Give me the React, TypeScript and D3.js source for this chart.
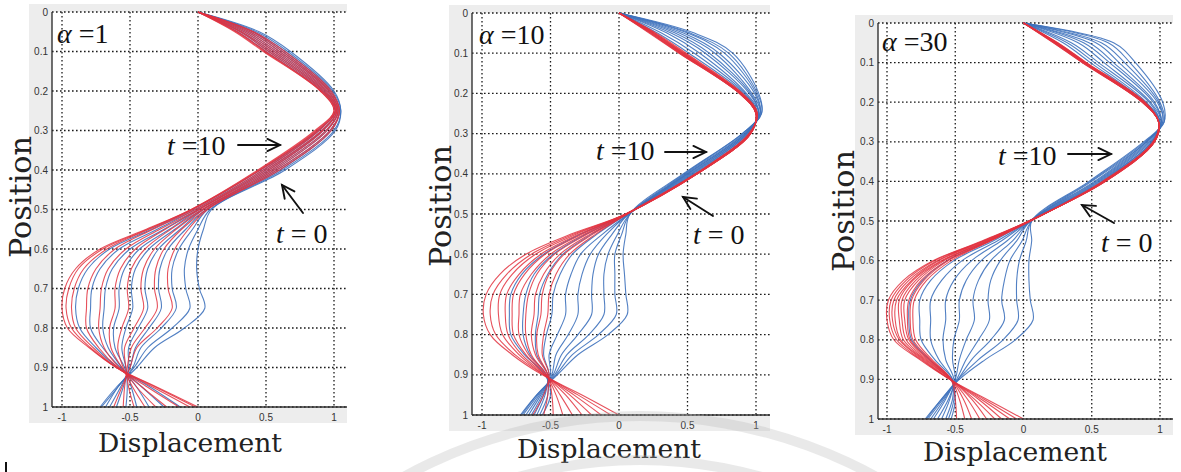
import React from "react";
import * as d3 from "d3";

// sample positions along the beam (shared by every curve)
const positions = [0, 0.05, 0.1, 0.2, 0.25, 0.3, 0.4, 0.5, 0.55, 0.6, 0.65, 0.7, 0.75, 0.8, 0.85, 0.9, 0.95, 1];

const yTicks = [0, 0.1, 0.2, 0.3, 0.4, 0.5, 0.6, 0.7, 0.8, 0.9, 1];
const yTickLabels = ["0", "0.1", "0.2", "0.3", "0.4", "0.5", "0.6", "0.7", "0.8", "0.9", "1"];
const xTicks = [-1, -0.5, 0, 0.5, 1];
const xTickLabels = ["-1", "-0.5", "0", "0.5", "1"];
const alphaLabels = ["1", "10", "30"];

// alpha = 1
const alpha1Blue = [
  [0, .45, .68, 1.0, 1.05, 1.01, .64, .1, .04, 0, -.01, .01, .05, -.1, -.32, -.45, -.6, -.72],
  [0, .43, .66, .99, 1.05, 1.0, .62, .09, 0, -.07, -.1, -.09, -.06, -.19, -.37, -.47, -.59, -.71],
  [0, .41, .64, .98, 1.04, .98, .6, .07, -.04, -.14, -.19, -.19, -.16, -.27, -.42, -.48, -.59, -.68],
  [0, .4, .62, .97, 1.04, .97, .58, .06, -.09, -.22, -.28, -.29, -.27, -.36, -.46, -.5, -.57, -.65],
  [0, .38, .6, .96, 1.03, .95, .56, .04, -.13, -.29, -.37, -.39, -.37, -.44, -.51, -.51, -.55, -.6],
  [0, .36, .58, .95, 1.03, .94, .54, .03, -.17, -.36, -.46, -.49, -.48, -.53, -.56, -.53, -.52, -.53],
  [0, .34, .56, .94, 1.02, .92, .52, .01, -.21, -.43, -.54, -.58, -.58, -.62, -.61, -.54, -.49, -.45],
  [0, .32, .54, .93, 1.02, .91, .5, 0, -.25, -.5, -.63, -.68, -.69, -.7, -.66, -.56, -.45, -.36],
  [0, .31, .52, .92, 1.01, .89, .48, -.02, -.3, -.58, -.72, -.78, -.79, -.79, -.7, -.57, -.41, -.25],
  [0, .29, .5, .91, 1.01, .88, .46, -.04, -.34, -.65, -.81, -.88, -.9, -.87, -.75, -.59, -.35, -.13],
];
const alpha1Red = [
  [0, .41, .64, .98, 1.04, .98, .6, .07, -.07, -.17, -.22, -.22, -.19, -.3, -.45, -.5, -.56, -.62],
  [0, .4, .62, .97, 1.04, .97, .58, .06, -.12, -.25, -.31, -.32, -.3, -.39, -.49, -.52, -.54, -.55],
  [0, .38, .6, .96, 1.03, .95, .56, .04, -.16, -.32, -.4, -.42, -.4, -.47, -.54, -.53, -.51, -.47],
  [0, .36, .58, .95, 1.03, .94, .54, .03, -.2, -.39, -.49, -.52, -.51, -.56, -.59, -.55, -.48, -.39],
  [0, .34, .56, .94, 1.02, .92, .52, .01, -.24, -.46, -.57, -.61, -.61, -.65, -.64, -.56, -.45, -.31],
  [0, .32, .54, .93, 1.02, .91, .5, 0, -.28, -.53, -.66, -.71, -.72, -.73, -.69, -.58, -.41, -.23],
  [0, .31, .52, .92, 1.01, .89, .48, -.02, -.33, -.61, -.75, -.81, -.82, -.82, -.73, -.59, -.37, -.14],
  [0, .29, .5, .91, 1.01, .88, .46, -.04, -.36, -.67, -.84, -.91, -.93, -.9, -.77, -.6, -.33, -.06],
  [0, .28, .49, .9, 1.0, .87, .45, -.05, -.37, -.7, -.88, -.95, -.97, -.93, -.79, -.6, -.31, -.02],
  [0, .27, .48, .9, 1.0, .86, .44, -.05, -.38, -.72, -.9, -.98, -1.0, -.96, -.8, -.6, -.3, 0],
];

// alpha = 10
const alpha10Blue = [
  [0, .55, .83, 1.02, 1.04, .9, .47, .08, .05, .03, .04, .05, .06, -.08, -.3, -.45, -.6, -.72],
  [0, .52, .8, 1.01, 1.04, .9, .48, .08, .02, -.03, -.03, -.03, -.02, -.15, -.34, -.46, -.6, -.71],
  [0, .5, .77, 1.0, 1.03, .91, .49, .08, -.01, -.08, -.11, -.11, -.11, -.22, -.38, -.47, -.59, -.7],
  [0, .47, .73, .99, 1.03, .92, .5, .07, -.05, -.15, -.19, -.2, -.2, -.3, -.42, -.48, -.58, -.68],
  [0, .44, .7, .97, 1.03, .92, .5, .07, -.09, -.21, -.27, -.3, -.3, -.37, -.46, -.49, -.57, -.66],
  [0, .41, .66, .96, 1.02, .93, .51, .07, -.12, -.28, -.35, -.39, -.39, -.45, -.51, -.5, -.56, -.64],
  [0, .38, .63, .95, 1.02, .93, .52, .06, -.16, -.34, -.43, -.48, -.49, -.53, -.55, -.51, -.55, -.62],
  [0, .35, .59, .93, 1.02, .94, .53, .06, -.2, -.41, -.52, -.58, -.59, -.61, -.6, -.52, -.54, -.6],
  [0, .31, .55, .92, 1.01, .94, .54, .06, -.24, -.48, -.62, -.68, -.7, -.7, -.65, -.53, -.52, -.58],
  [0, .28, .51, .91, 1.01, .95, .55, .06, -.28, -.55, -.71, -.79, -.8, -.79, -.69, -.54, -.5, -.56],
];
const alpha10Red = [
  [0, .27, .49, .9, 1.01, .95, .56, .06, -.17, -.36, -.46, -.51, -.52, -.55, -.56, -.51, -.55, -.63],
  [0, .26, .48, .9, 1.01, .95, .56, .06, -.19, -.4, -.51, -.56, -.57, -.6, -.59, -.52, -.52, -.55],
  [0, .26, .47, .89, 1.01, .95, .56, .06, -.21, -.43, -.55, -.61, -.62, -.64, -.61, -.52, -.49, -.48],
  [0, .25, .47, .89, 1.0, .96, .56, .06, -.23, -.47, -.6, -.66, -.68, -.68, -.64, -.53, -.46, -.41],
  [0, .25, .46, .89, 1.0, .96, .57, .05, -.25, -.5, -.64, -.72, -.73, -.73, -.66, -.53, -.43, -.34],
  [0, .24, .46, .89, 1.0, .96, .57, .05, -.27, -.54, -.69, -.77, -.78, -.77, -.68, -.54, -.39, -.27],
  [0, .24, .45, .88, 1.0, .96, .57, .05, -.29, -.57, -.73, -.82, -.83, -.81, -.71, -.54, -.36, -.2],
  [0, .23, .45, .88, 1.0, .96, .57, .05, -.31, -.61, -.78, -.87, -.88, -.85, -.73, -.55, -.33, -.13],
  [0, .23, .44, .88, 1.0, .96, .57, .05, -.33, -.64, -.82, -.92, -.94, -.9, -.76, -.55, -.3, -.06],
  [0, .22, .44, .88, 1.0, .96, .57, .05, -.35, -.68, -.87, -.97, -.99, -.94, -.78, -.56, -.27, 0],
];

// alpha = 30
const alpha30Blue = [
  [0, .66, .82, 1.02, 1.03, .88, .48, .06, .06, .04, .04, .05, .07, -.06, -.28, -.47, -.6, -.72],
  [0, .62, .78, 1.0, 1.03, .89, .49, .06, .02, -.03, -.05, -.05, -.04, -.15, -.33, -.48, -.6, -.71],
  [0, .57, .74, .99, 1.02, .9, .5, .06, -.01, -.1, -.14, -.16, -.14, -.24, -.38, -.48, -.59, -.7],
  [0, .53, .7, .98, 1.02, .9, .52, .05, -.05, -.17, -.24, -.26, -.25, -.33, -.42, -.49, -.58, -.68],
  [0, .48, .66, .96, 1.01, .91, .53, .05, -.08, -.24, -.33, -.37, -.36, -.42, -.47, -.5, -.57, -.66],
  [0, .44, .63, .95, 1.01, .92, .54, .05, -.12, -.31, -.42, -.47, -.47, -.51, -.52, -.5, -.55, -.63],
  [0, .4, .59, .93, 1.01, .93, .55, .05, -.16, -.38, -.51, -.57, -.57, -.59, -.57, -.51, -.54, -.6],
  [0, .35, .55, .92, 1.0, .94, .56, .05, -.19, -.45, -.6, -.68, -.68, -.68, -.62, -.52, -.52, -.57],
  [0, .32, .52, .9, 1.0, .94, .57, .04, -.22, -.51, -.68, -.76, -.76, -.75, -.65, -.52, -.51, -.55],
  [0, .29, .49, .89, 1.0, .95, .58, .04, -.25, -.56, -.74, -.83, -.84, -.82, -.69, -.53, -.5, -.53],
];
const alpha30Red = [
  [0, .25, .46, .89, .99, .95, .58, .05, -.24, -.53, -.71, -.8, -.81, -.79, -.67, -.53, -.5, -.49],
  [0, .25, .46, .89, .99, .95, .58, .05, -.24, -.55, -.73, -.82, -.83, -.81, -.68, -.53, -.47, -.43],
  [0, .24, .45, .88, .99, .95, .59, .05, -.25, -.56, -.75, -.84, -.85, -.83, -.69, -.53, -.44, -.38],
  [0, .24, .45, .88, .99, .95, .59, .05, -.26, -.58, -.77, -.87, -.87, -.84, -.7, -.53, -.41, -.32],
  [0, .24, .45, .88, .99, .96, .59, .05, -.26, -.59, -.79, -.89, -.89, -.86, -.71, -.53, -.38, -.27],
  [0, .23, .44, .88, .99, .96, .59, .04, -.27, -.6, -.81, -.91, -.91, -.88, -.72, -.53, -.36, -.21],
  [0, .23, .44, .87, .99, .96, .6, .04, -.28, -.62, -.82, -.93, -.94, -.9, -.73, -.54, -.33, -.16],
  [0, .23, .44, .87, .99, .96, .6, .04, -.29, -.63, -.84, -.95, -.96, -.91, -.74, -.54, -.31, -.1],
  [0, .22, .43, .87, .99, .96, .6, .04, -.29, -.65, -.86, -.97, -.98, -.93, -.75, -.54, -.29, -.05],
  [0, .22, .43, .87, .99, .96, .6, .04, -.3, -.66, -.88, -.99, -1.0, -.95, -.76, -.54, -.27, 0],
];

// frame geometry of each panel, in page pixels
const frames = [
  {
    left: 52, top: 12, bottom: 407, x0: 62, x1: 334, right: 347,
    alphaPos: [57, 43], t10Pos: [167, 155], t10Arrow: [238, 145, 280, 145],
    t0Arrow: [303, 213, 282, 185], t0Pos: [276, 243],
    posLabel: [31, 197], dispLabel: [190, 452],
  },
  {
    left: 472, top: 13, bottom: 415, x0: 482, x1: 756, right: 770,
    alphaPos: [479, 44], t10Pos: [596, 160], t10Arrow: [665, 152, 706, 152],
    t0Arrow: [713, 216, 683, 197], t0Pos: [693, 244],
    posLabel: [451, 206], dispLabel: [609, 458],
  },
  {
    left: 878, top: 23, bottom: 419, x0: 887, x1: 1160, right: 1173,
    alphaPos: [882, 51], t10Pos: [998, 165], t10Arrow: [1068, 154, 1111, 154],
    t0Arrow: [1114, 223, 1082, 205], t0Pos: [1101, 252],
    posLabel: [854, 211], dispLabel: [1015, 461],
  },
];

const panelData = [
  { blue: alpha1Blue, red: alpha1Red, alpha: alphaLabels[0] },
  { blue: alpha10Blue, red: alpha10Red, alpha: alphaLabels[1] },
  { blue: alpha30Blue, red: alpha30Red, alpha: alphaLabels[2] },
];

const serif = "'Liberation Serif', 'Times New Roman', serif";
const labelSerif = "'DejaVu Serif', serif";
const sans = "'Liberation Sans', Arial, sans-serif";

function Arrow({ coords }) {
  const [x1, y1, x2, y2] = coords;
  const ang = Math.atan2(y2 - y1, x2 - x1);
  const len = 14, spread = 0.45;
  const h1 = [x2 - len * Math.cos(ang - spread), y2 - len * Math.sin(ang - spread)];
  const h2 = [x2 - len * Math.cos(ang + spread), y2 - len * Math.sin(ang + spread)];
  return (
    <g stroke="#111" strokeWidth={1.9} fill="none" strokeLinecap="round" strokeLinejoin="miter">
      <line x1={x1} y1={y1} x2={x2} y2={y2} />
      <polyline points={`${h1[0]},${h1[1]} ${x2},${y2} ${h2[0]},${h2[1]}`} />
    </g>
  );
}

function Panel({ frame, data }) {
  const x = d3.scaleLinear().domain([-1, 1]).range([frame.x0, frame.x1]);
  const y = d3.scaleLinear().domain([0, 1]).range([frame.top, frame.bottom]);
  const line = d3.line<number>()
    .x(d => x(d))
    .y((d, i) => y(positions[i]))
    .curve(d3.curveCatmullRom.alpha(0.5));

  const dotted = { stroke: "#1a1a1a", strokeWidth: 1.3, strokeDasharray: "1.6 2.4" };

  return (
    <g>
      {/* scanned grey margin */}
      <rect x={frame.left - 23} y={frame.top - 8} width={frame.right - frame.left + 23}
        height={frame.bottom - frame.top + 24} fill="#ededed" />
      <rect x={frame.left} y={frame.top} width={frame.right - frame.left}
        height={frame.bottom - frame.top} fill="#fff" />

      {/* grid */}
      {yTicks.map(t => (
        <line key={"gy" + t} x1={frame.left} x2={frame.right} y1={y(t)} y2={y(t)} {...dotted} />
      ))}
      {xTicks.map(t => (
        <line key={"gx" + t} x1={x(t)} x2={x(t)} y1={frame.top} y2={frame.bottom} {...dotted} />
      ))}

      {/* curves */}
      {data.blue.map((c, i) => (
        <path key={"b" + i} d={line(c)} fill="none" stroke="#3f72bd" strokeWidth={1.1} strokeOpacity={0.9} />
      ))}
      {data.red.map((c, i) => (
        <path key={"r" + i} d={line(c)} fill="none" stroke="#e2333f" strokeWidth={1.1} strokeOpacity={0.85} />
      ))}

      {/* axes */}
      <line x1={frame.left} x2={frame.left} y1={frame.top} y2={frame.bottom} stroke="#333" strokeWidth={1.4} />
      <line x1={frame.left} x2={frame.right} y1={frame.bottom} y2={frame.bottom} stroke="#333" strokeWidth={1.4} />
      {yTicks.map((t, i) => (
        <text key={"ty" + t} x={frame.left - 4} y={y(t)} dy="0.35em" textAnchor="end"
          fontFamily={sans} fontSize={10} fill="#333">{yTickLabels[i]}</text>
      ))}
      {xTicks.map((t, i) => (
        <text key={"tx" + t} x={x(t)} y={frame.bottom + 10} dy="0.35em" textAnchor="middle"
          fontFamily={sans} fontSize={10} fill="#333">{xTickLabels[i]}</text>
      ))}

      {/* axis titles */}
      <text transform={`translate(${frame.posLabel[0]},${frame.posLabel[1]}) rotate(-90)`}
        textAnchor="middle" fontFamily={labelSerif} fontSize={29} fill="#222"
        textLength={122} lengthAdjust="spacingAndGlyphs">Position</text>
      <text x={frame.dispLabel[0]} y={frame.dispLabel[1]} textAnchor="middle"
        fontFamily={labelSerif} fontSize={26} fill="#222"
        textLength={184} lengthAdjust="spacingAndGlyphs">Displacement</text>

      {/* annotations */}
      <text x={frame.alphaPos[0]} y={frame.alphaPos[1]} fontFamily={serif} fontSize={28} fill="#111">
        <tspan fontStyle="italic">α</tspan> ={data.alpha}
      </text>
      <text x={frame.t10Pos[0]} y={frame.t10Pos[1]} fontFamily={serif} fontSize={28} fill="#111">
        <tspan fontStyle="italic">t</tspan> =10
      </text>
      <Arrow coords={frame.t10Arrow} />
      <Arrow coords={frame.t0Arrow} />
      <text x={frame.t0Pos[0]} y={frame.t0Pos[1]} fontFamily={serif} fontSize={28} fill="#111">
        <tspan fontStyle="italic">t</tspan> = 0
      </text>
    </g>
  );
}

export default function App() {
  const arc = d3.arc();
  return (
    <div>
      <style>{`body{margin:0;background:#fff}`}</style>
      <svg width={1181} height={472} style={{ display: "block" }}>
        <rect width={1181} height={472} fill="#fff" />
        {frames.map((f, i) => (
          <Panel key={i} frame={f} data={panelData[i]} />
        ))}
        {/* faint watermark arcs of the scan */}
        <g transform="translate(640,905)" fill="#b5b5b5" fillOpacity={0.3}>
          <path d={arc({ innerRadius: 484, outerRadius: 494, startAngle: -0.7, endAngle: 0.7 })} />
          <path d={arc({ innerRadius: 440, outerRadius: 450, startAngle: -0.75, endAngle: 0.75 })} />
        </g>
        <line x1={6} x2={6} y1={462} y2={472} stroke="#111" strokeWidth={2} />
      </svg>
    </div>
  );
}
